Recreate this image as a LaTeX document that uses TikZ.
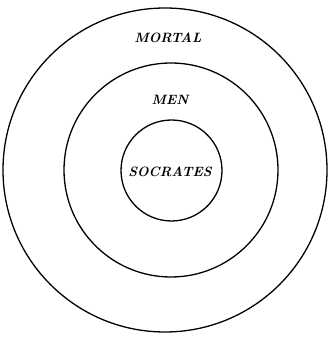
\documentclass[tikz,border=0pt]{standalone}
\usepackage{tikz}

\tikzset{
	ring/.style={line width=1.3pt},
	tag/.style={font=\fontsize{13.5}{15}\selectfont\bfseries\itshape}
}

\begin{document}
\begin{tikzpicture}[x=1pt,y=1pt]
		\useasboundingbox (0,0) rectangle (330,337);
		
		% Mortal
		\draw[ring] (165,167) circle (162);
		\node[tag] (mortal) at (168,299) {MORTAL};
		
		% Men
		\draw[ring] (171,167) circle (107);
		\node[tag] (men) at (170,237) {MEN};
		
		% Socrates
		\draw[ring] (171.5,166.5) circle (50.5);
		\node[tag] (socrates) at (170,165) {SOCRATES};
		
	\end{tikzpicture}
\end{document}
